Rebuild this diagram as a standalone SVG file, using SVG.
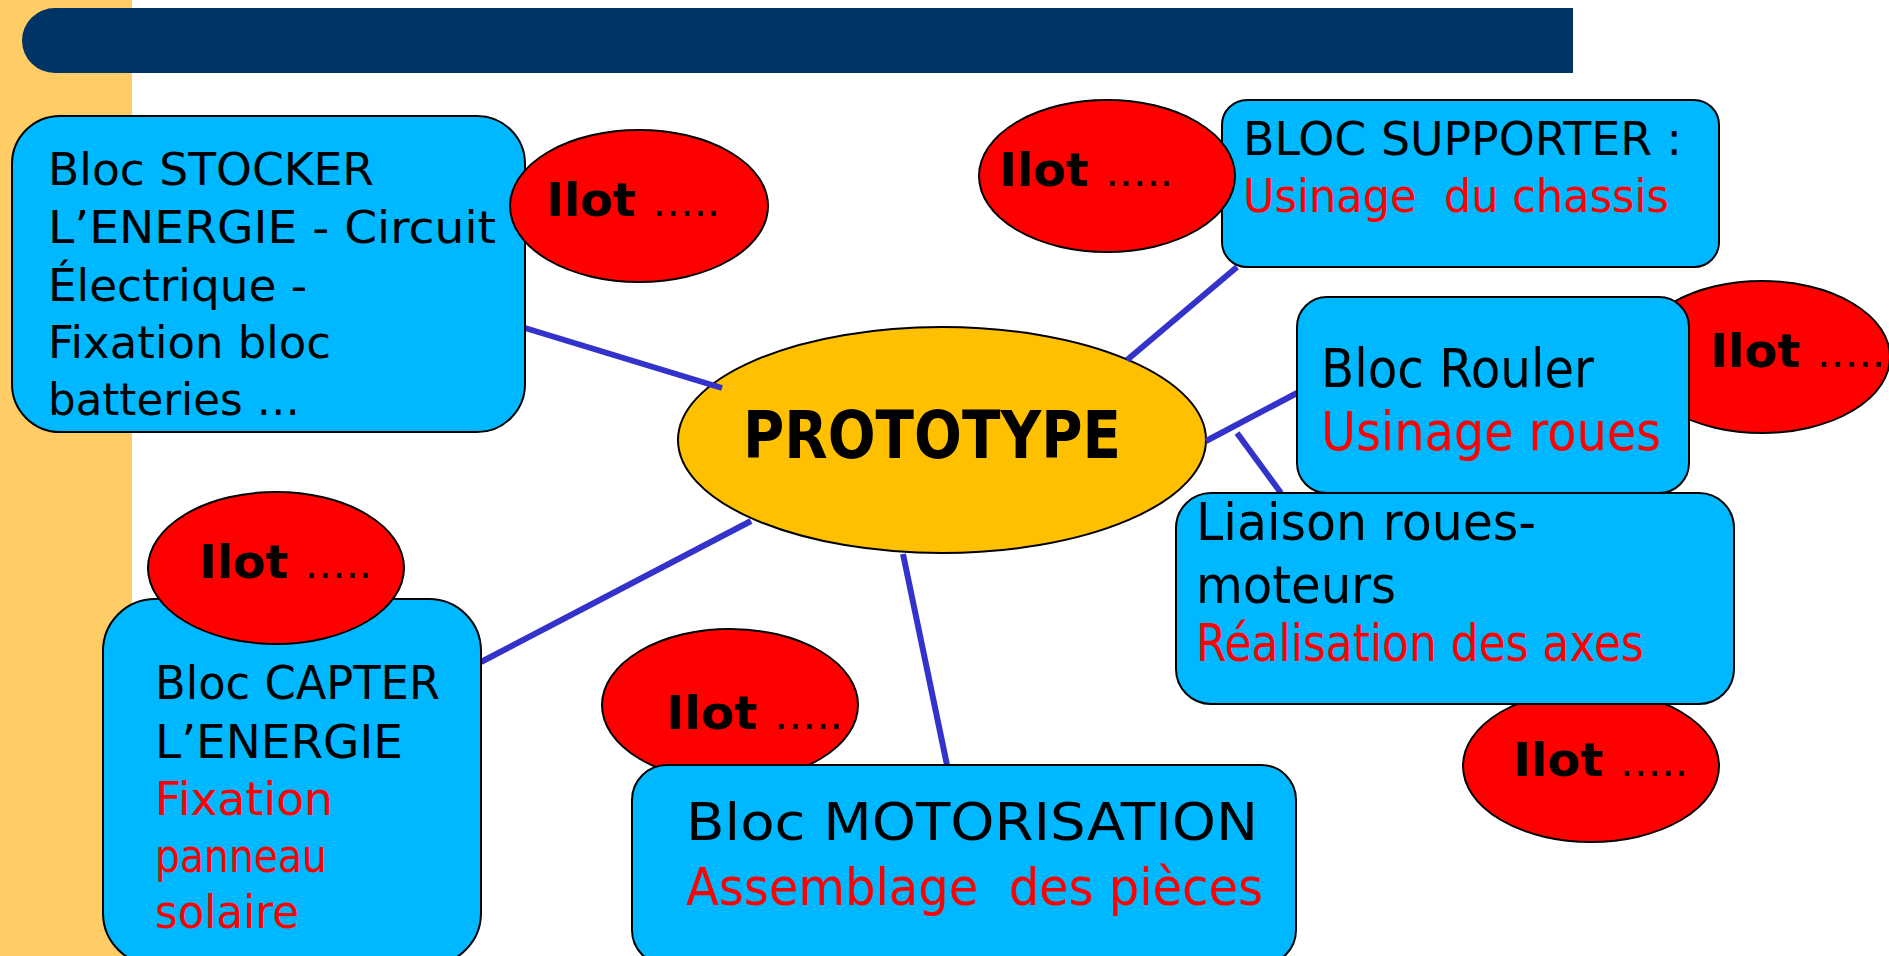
<svg xmlns="http://www.w3.org/2000/svg" width="1889" height="956" viewBox="0 0 1889 956">
<style>
.box{fill:#00B8FF;stroke:#000;stroke-width:2}
.ilot{fill:#FF0000;stroke:#000;stroke-width:2}
.proto{fill:#FFC000;stroke:#000;stroke-width:2}
.t{font-family:"DejaVu Sans",sans-serif;fill:#000}
.r{fill:#FF0000}
.b{font-weight:bold}
.d{font-weight:normal;font-size:40px}
.conn line{stroke:#3333CC;stroke-width:6}
</style>
<rect x="0" y="0" width="1889" height="956" fill="#FFFFFF"/>
<rect x="0" y="0" width="132" height="956" fill="#FFCC66"/>
<path d="M55,8 H1573 V73 H55 A33,32.5 0 0 1 55,8 Z" fill="#003366"/>

<g id="ilot3"><ellipse class="ilot" cx="1762" cy="357" rx="128" ry="76"/>
<text class="t b" x="1710" y="367" font-size="46" textLength="175" lengthAdjust="spacingAndGlyphs">Ilot <tspan class="d">…..</tspan></text></g>
<g id="ilot4"><ellipse class="ilot" cx="1591" cy="766" rx="128" ry="76"/>
<text class="t b" x="1513" y="776" font-size="46" textLength="175" lengthAdjust="spacingAndGlyphs">Ilot <tspan class="d">…..</tspan></text></g>
<g id="ilot5"><ellipse class="ilot" cx="730" cy="705" rx="128" ry="76"/>
<text class="t b" x="666" y="729" font-size="46" textLength="177" lengthAdjust="spacingAndGlyphs">Ilot <tspan class="d">…..</tspan></text></g>

<g id="prototype"><ellipse class="proto" cx="942" cy="440" rx="264" ry="113"/>
<text class="t b" x="743" y="458" font-size="66" textLength="378" lengthAdjust="spacingAndGlyphs">PROTOTYPE</text></g>

<g id="connectors" class="conn">
<line x1="525" y1="328" x2="722" y2="388"/>
<line x1="1237" y1="267" x2="1127" y2="360"/>
<line x1="1297" y1="393" x2="1206" y2="441"/>
<line x1="1237" y1="433" x2="1281" y2="493"/>
<line x1="751" y1="521" x2="481" y2="662"/>
<line x1="903" y1="554" x2="947" y2="765"/>
</g>

<g id="stocker"><rect class="box" x="12" y="116" width="513" height="316" rx="48"/>
<text class="t" font-size="45" x="48" y="185" textLength="326" lengthAdjust="spacingAndGlyphs">Bloc STOCKER</text>
<text class="t" font-size="45" x="48" y="243" textLength="448" lengthAdjust="spacingAndGlyphs">L’ENERGIE - Circuit</text>
<text class="t" font-size="45" x="48" y="301" textLength="259" lengthAdjust="spacingAndGlyphs">Électrique -</text>
<text class="t" font-size="45" x="48" y="358" textLength="283" lengthAdjust="spacingAndGlyphs">Fixation bloc</text>
<text class="t" font-size="45" x="48" y="415" textLength="252" lengthAdjust="spacingAndGlyphs">batteries …</text></g>

<g id="supporter"><rect class="box" x="1222" y="100" width="497" height="167" rx="25"/>
<text class="t" font-size="46" x="1243" y="155" textLength="439" lengthAdjust="spacingAndGlyphs">BLOC SUPPORTER :</text>
<text class="t r" font-size="46" x="1243" y="212" textLength="426" lengthAdjust="spacingAndGlyphs">Usinage&#160; du chassis</text></g>

<g id="rouler"><rect class="box" x="1297" y="297" width="392" height="196" rx="30"/>
<text class="t" font-size="54" x="1321" y="387" textLength="273" lengthAdjust="spacingAndGlyphs">Bloc Rouler</text>
<text class="t r" font-size="54" x="1321" y="450" textLength="340" lengthAdjust="spacingAndGlyphs">Usinage roues</text></g>

<g id="liaison"><rect class="box" x="1176" y="493" width="558" height="211" rx="35"/>
<text class="t" font-size="52" x="1196" y="540" textLength="340" lengthAdjust="spacingAndGlyphs">Liaison roues-</text>
<text class="t" font-size="52" x="1196" y="603" textLength="200" lengthAdjust="spacingAndGlyphs">moteurs</text>
<text class="t r" font-size="52" x="1196" y="661" textLength="448" lengthAdjust="spacingAndGlyphs">Réalisation des axes</text></g>

<g id="motorisation"><rect class="box" x="632" y="765" width="664" height="200" rx="35"/>
<text class="t" font-size="51" x="686" y="840" textLength="572" lengthAdjust="spacingAndGlyphs">Bloc MOTORISATION</text>
<text class="t r" font-size="51" x="686" y="905" textLength="577" lengthAdjust="spacingAndGlyphs">Assemblage&#160; des pièces</text></g>

<g id="capter"><rect class="box" x="103" y="599" width="378" height="366" rx="52"/>
<text class="t" font-size="47" x="155" y="699" textLength="285" lengthAdjust="spacingAndGlyphs">Bloc CAPTER</text>
<text class="t" font-size="47" x="155" y="758" textLength="248" lengthAdjust="spacingAndGlyphs">L’ENERGIE</text>
<text class="t r" font-size="47" x="155" y="815" textLength="178" lengthAdjust="spacingAndGlyphs">Fixation</text>
<text class="t r" font-size="47" x="155" y="872" textLength="172" lengthAdjust="spacingAndGlyphs">panneau</text>
<text class="t r" font-size="47" x="155" y="928" textLength="144" lengthAdjust="spacingAndGlyphs">solaire</text></g>

<g id="ilot1"><ellipse class="ilot" cx="639" cy="206" rx="129" ry="76"/>
<text class="t b" x="546" y="216" font-size="46" textLength="174" lengthAdjust="spacingAndGlyphs">Ilot <tspan class="d">…..</tspan></text></g>
<g id="ilot2"><ellipse class="ilot" cx="1107" cy="176" rx="128" ry="76"/>
<text class="t b" x="999" y="186" font-size="46" textLength="174" lengthAdjust="spacingAndGlyphs">Ilot <tspan class="d">…..</tspan></text></g>
<g id="ilot6"><ellipse class="ilot" cx="276" cy="568" rx="128" ry="76"/>
<text class="t b" x="199" y="578" font-size="46" textLength="173" lengthAdjust="spacingAndGlyphs">Ilot <tspan class="d">…..</tspan></text></g>
</svg>
